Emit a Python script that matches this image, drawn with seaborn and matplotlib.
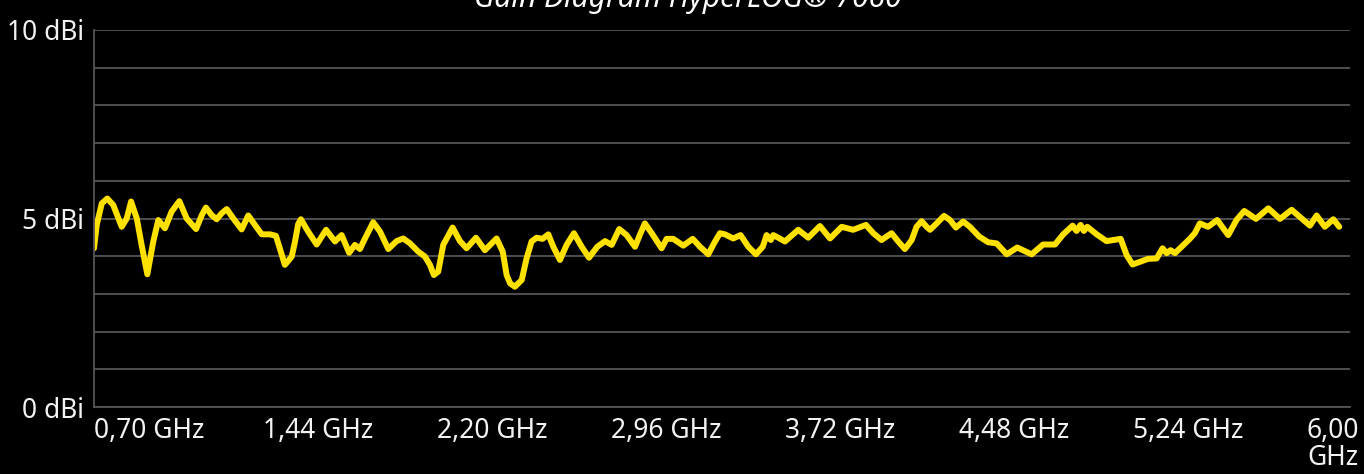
import matplotlib
matplotlib.use("Agg")
import matplotlib.pyplot as plt
import seaborn as sns
import pandas as pd

freq_ghz = [
    0.700, 0.712, 0.734, 0.758, 0.784, 0.821, 0.843, 0.862, 0.887, 0.908,
    0.933, 0.959, 0.981, 1.010, 1.039, 1.073, 1.105, 1.146, 1.171, 1.189,
    1.214, 1.236, 1.258, 1.280, 1.309, 1.345, 1.374, 1.403, 1.433, 1.469,
    1.495, 1.516, 1.534, 1.564, 1.578, 1.592, 1.604, 1.636, 1.673, 1.714,
    1.753, 1.782, 1.815, 1.840, 1.862, 1.884, 1.920, 1.950, 1.986, 2.022,
    2.051, 2.081, 2.117, 2.146, 2.168, 2.185, 2.204, 2.226, 2.267, 2.299,
    2.328, 2.369, 2.408, 2.459, 2.486, 2.503, 2.518, 2.539, 2.569, 2.590,
    2.612, 2.634, 2.660, 2.685, 2.707, 2.736, 2.765, 2.797, 2.831, 2.863,
    2.899, 2.933, 2.962, 2.995, 3.027, 3.064, 3.086, 3.107, 3.137, 3.180,
    3.202, 3.231, 3.275, 3.316, 3.348, 3.384, 3.409, 3.435, 3.457, 3.493,
    3.525, 3.559, 3.592, 3.622, 3.639, 3.657, 3.668, 3.690, 3.719, 3.777,
    3.821, 3.872, 3.916, 3.967, 4.017, 4.073, 4.105, 4.141, 4.185, 4.214,
    4.243, 4.273, 4.294, 4.316, 4.338, 4.353, 4.382, 4.414, 4.440, 4.466,
    4.498, 4.527, 4.568, 4.607, 4.644, 4.688, 4.734, 4.797, 4.847, 4.899,
    4.935, 4.976, 4.993, 5.011, 5.025, 5.040, 5.081, 5.124, 5.186, 5.212,
    5.238, 5.270, 5.306, 5.343, 5.369, 5.387, 5.404, 5.423, 5.452, 5.488,
    5.510, 5.532, 5.568, 5.608, 5.634, 5.656, 5.692, 5.726, 5.777, 5.831,
    5.882, 5.933, 6.013, 6.042, 6.078, 6.115, 6.141,
]
gain_dbi = [
    4.21, 4.83, 5.40, 5.53, 5.36, 4.78, 5.00, 5.45, 5.00, 4.30,
    3.52, 4.39, 4.96, 4.74, 5.18, 5.46, 5.00, 4.72, 5.09, 5.29,
    5.09, 4.98, 5.14, 5.25, 5.00, 4.71, 5.08, 4.83, 4.58, 4.58,
    4.54, 4.12, 3.77, 3.99, 4.38, 4.85, 4.98, 4.65, 4.31, 4.70,
    4.39, 4.56, 4.09, 4.30, 4.19, 4.47, 4.90, 4.65, 4.19, 4.40,
    4.47, 4.34, 4.12, 3.99, 3.77, 3.50, 3.59, 4.30, 4.76, 4.40,
    4.21, 4.49, 4.16, 4.47, 4.12, 3.50, 3.28, 3.19, 3.37, 3.94,
    4.39, 4.49, 4.46, 4.58, 4.25, 3.90, 4.30, 4.61, 4.25, 3.96,
    4.25, 4.40, 4.30, 4.72, 4.56, 4.25, 4.58, 4.87, 4.61, 4.21,
    4.46, 4.46, 4.28, 4.46, 4.25, 4.05, 4.34, 4.61, 4.58, 4.47,
    4.56, 4.25, 4.05, 4.25, 4.56, 4.43, 4.56, 4.49, 4.39, 4.70,
    4.49, 4.80, 4.47, 4.78, 4.70, 4.83, 4.61, 4.43, 4.61, 4.39,
    4.19, 4.43, 4.78, 4.93, 4.78, 4.70, 4.87, 5.07, 4.96, 4.76,
    4.92, 4.78, 4.52, 4.37, 4.34, 4.05, 4.23, 4.05, 4.31, 4.31,
    4.58, 4.81, 4.67, 4.83, 4.67, 4.78, 4.58, 4.40, 4.46, 4.03,
    3.78, 3.85, 3.93, 3.94, 4.21, 4.08, 4.16, 4.08, 4.25, 4.46,
    4.61, 4.87, 4.78, 4.96, 4.74, 4.56, 4.96, 5.20, 4.99, 5.27,
    4.99, 5.23, 4.81, 5.08, 4.78, 4.98, 4.78,
]

x_ticks = [0.70, 1.44, 2.20, 2.96, 3.72, 4.48, 5.24, 6.00]
x_labels = ["0,70 GHz", "1,44 GHz", "2,20 GHz", "2,96 GHz",
            "3,72 GHz", "4,48 GHz", "5,24 GHz", "6,00\nGHz"]
y_ticks = list(range(0, 11))
y_labels = ["0 dBi", "", "", "", "", "5 dBi", "", "", "", "", "10 dBi"]
title = "Gain Diagram HyperLOG® 7060"

sns.set_theme(style="dark")
plt.rcParams["font.family"] = ["Noto Sans", "DejaVu Sans"]

df = pd.DataFrame({"freq": freq_ghz, "gain": gain_dbi})

W, H = 1364, 474
fig = plt.figure(figsize=(W / 100, H / 100), dpi=100, facecolor="black")
ax = fig.add_axes([94 / W, 1 - 407 / H, (1350 - 94) / W, (407 - 30) / H])
ax.set_facecolor("black")
ax.set_axisbelow(True)

sns.lineplot(data=df, x="freq", y="gain", ax=ax, color="#FFE100",
             linewidth=4.3, solid_joinstyle="round", solid_capstyle="round")

ax.set_xlim(0.70, 6.188)
ax.set_ylim(0, 10)
ax.set_yticks(y_ticks, y_labels)
ax.set_xticks(x_ticks, x_labels)
ax.grid(axis="y", color="#555555", linewidth=1.3)
ax.grid(axis="x", visible=False)
for s in ["top", "right"]:
    ax.spines[s].set_visible(False)
for s in ["left", "bottom"]:
    ax.spines[s].set_color("#555555")
    ax.spines[s].set_linewidth(1.3)

ax.tick_params(axis="y", length=0, pad=7, labelsize=19, labelcolor="#f2f2f2")
ax.tick_params(axis="x", length=4, width=1.3, color="#555555", pad=3,
               labelsize=19, labelcolor="#f2f2f2")
for lbl in ax.get_xticklabels():
    lbl.set_horizontalalignment("left")
    lbl.set_linespacing(0.95)
ax.set_xlabel("")
ax.set_ylabel("")

fig.text(688 / W, 1 - 7 / H, title, ha="center", va="baseline",
         style="italic", color="white", fontsize=21.5)

fig.savefig("out.png", dpi=100, facecolor="black")
